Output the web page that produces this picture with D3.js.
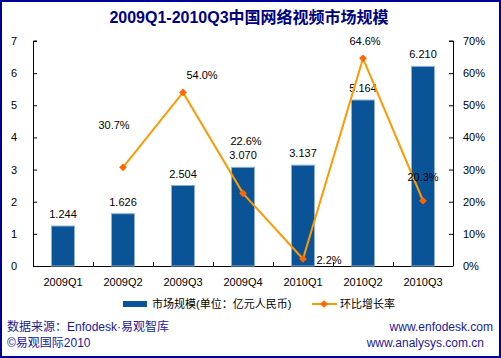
<!DOCTYPE html>
<html>
<head>
<meta charset="utf-8">
<script src="https://cdn.jsdelivr.net/npm/d3@7"></script>
<style>
html,body{margin:0;padding:0;background:#fff;}
svg{display:block;}
text{font-family:"Liberation Sans",Arial,"Noto Sans CJK SC",sans-serif;}
</style>
</head>
<body>
<svg id="chart" width="501" height="358"></svg>
<script>
const categories = ["2009Q1","2009Q2","2009Q3","2009Q4","2010Q1","2010Q2","2010Q3"];
const marketSize = [1.244, 1.626, 2.504, 3.070, 3.137, 5.164, 6.210];
const growthRate = [null, 30.7, 54.0, 22.6, 2.2, 64.6, 20.3];
const leftTicks = [0,1,2,3,4,5,6,7];
const rightTicks = [0,10,20,30,40,50,60,70];
const titleText = "2009Q1-2010Q3中国网络视频市场规模";
const legendBar = "市场规模(单位：亿元人民币)";
const legendLine = "环比增长率";
// manual label placements (dx, dy) for growth labels, relative to marker
const growthLabelOffset = [null,[-9,-42],[19,-17],[3,-52],[26,1],[2,-17],[0,-24]];

const svg = d3.select("#chart");
const W = 501, H = 358;
const m = {left:33, right:453, top:41, bottom:266};
const navy = "#000099";

svg.append("rect").attr("x",1).attr("y",1).attr("width",W-2).attr("height",H-2)
  .attr("fill","#fff").attr("stroke",navy).attr("stroke-width",2);

svg.append("text").attr("x",249).attr("y",23).attr("text-anchor","middle")
  .attr("font-size",16).attr("font-weight","bold").attr("fill","#000080")
  .attr("font-family","Liberation Sans, Arial, Noto Sans CJK SC, sans-serif")
  .text(titleText);

const x = d3.scaleBand().domain(categories).range([m.left,m.right]).paddingInner(0).paddingOuter(0);
const yL = d3.scaleLinear().domain([0,7]).range([m.bottom,m.top]);
const yR = d3.scaleLinear().domain([0,70]).range([m.bottom,m.top]);

const fs = 11;
// left axis
const gL = svg.append("g").attr("transform",`translate(${m.left},0)`)
  .call(d3.axisRight(yL).tickValues(leftTicks).tickSize(4).tickFormat(d3.format("d")));
gL.selectAll("text").remove();
gL.select(".domain").attr("d",`M4,${m.top}H0.5V${m.bottom}`);
leftTicks.forEach(t=>{
  svg.append("text").attr("x",17).attr("y",yL(t)+4).attr("text-anchor","end")
    .attr("font-size",fs).attr("fill","#000").text(t);
});
// right axis
const gR = svg.append("g").attr("transform",`translate(${m.right},0)`)
  .call(d3.axisLeft(yR).tickValues(rightTicks).tickSize(4));
gR.selectAll("text").remove();
gR.select(".domain").attr("d",`M-4,${m.top}H0.5V${m.bottom}`);
rightTicks.forEach(t=>{
  svg.append("text").attr("x",463).attr("y",yR(t)+4).attr("text-anchor","start")
    .attr("font-size",fs).attr("fill","#000").text(t+"%");
});
// bottom axis
const gB = svg.append("g").attr("transform",`translate(0,${m.bottom})`)
  .call(d3.axisBottom(x).tickSize(0).tickSizeOuter(0));
gB.select(".domain").attr("d",`M${m.left},0.5H${m.right+0.5}`);
gB.selectAll("text").remove();
gB.selectAll(".tick line").remove();
categories.forEach((c,i)=>{
  if(i>0){
    const bx = Math.round(x(c))+0.5;
    svg.append("line").attr("x1",bx).attr("x2",bx).attr("y1",m.bottom).attr("y2",m.bottom-4)
      .attr("stroke","#000");
  }
  svg.append("text").attr("x",x(c)+x.bandwidth()/2).attr("y",m.bottom+20).attr("text-anchor","middle")
    .attr("font-size",fs).attr("fill","#000").text(c);
});
svg.selectAll(".tick line").attr("stroke","#000");
svg.selectAll(".domain").attr("stroke","#000");

// bars
const bw = 24;
svg.append("g").selectAll("rect").data(marketSize).join("rect")
  .attr("x",(d,i)=>x(categories[i])+x.bandwidth()/2-bw/2+0.5)
  .attr("y",d=>yL(d))
  .attr("width",bw-1).attr("height",d=>m.bottom-yL(d))
  .attr("fill","#0A5396").attr("stroke","#8CB0D8").attr("stroke-width",1);
svg.append("g").selectAll("text").data(marketSize).join("text")
  .attr("x",(d,i)=>x(categories[i])+x.bandwidth()/2)
  .attr("y",d=>yL(d)-8)
  .attr("text-anchor","middle").attr("font-size",fs).attr("fill","#000")
  .text(d=>d3.format(".3f")(d));

// line
const pts = growthRate.map((d,i)=>({d,i})).filter(p=>p.d!==null);
const line = d3.line().x(p=>x(categories[p.i])+x.bandwidth()/2).y(p=>yR(p.d));
svg.append("path").datum(pts).attr("d",line).attr("fill","none")
  .attr("stroke","#FF9900").attr("stroke-width",2);
const sym = d3.symbol().type(d3.symbolDiamond2).size(38);
svg.append("g").selectAll("path").data(pts).join("path")
  .attr("transform",p=>`translate(${x(categories[p.i])+x.bandwidth()/2},${yR(p.d)})`)
  .attr("d",sym).attr("fill","#FF6600");
svg.append("g").selectAll("text").data(pts).join("text")
  .attr("x",p=>x(categories[p.i])+x.bandwidth()/2+growthLabelOffset[p.i][0])
  .attr("y",p=>yR(p.d)+growthLabelOffset[p.i][1]+4)
  .attr("text-anchor","middle").attr("font-size",fs).attr("fill","#000")
  .text(p=>d3.format(".1f")(p.d)+"%");

// legend
svg.append("rect").attr("x",123).attr("y",301).attr("width",24).attr("height",6).attr("fill","#0A5396");
svg.append("text").attr("x",152).attr("y",308).attr("font-size",fs).attr("fill","#000").text(legendBar);
svg.append("line").attr("x1",312).attr("x2",337).attr("y1",304).attr("y2",304).attr("stroke","#FF9900").attr("stroke-width",2);
svg.append("path").attr("transform","translate(324,304)").attr("d",sym).attr("fill","#FF6600");
svg.append("text").attr("x",340).attr("y",308).attr("font-size",fs).attr("fill","#000").text(legendLine);

// footer
const fc = "#1A1A99";
svg.append("text").attr("x",7).attr("y",331).attr("font-size",12).attr("fill",fc).text("数据来源：Enfodesk·易观智库");
svg.append("text").attr("x",7).attr("y",347).attr("font-size",12).attr("fill",fc).text("©易观国际2010");
svg.append("text").attr("x",493).attr("y",331).attr("text-anchor","end").attr("font-size",12).attr("fill",fc).text("www.enfodesk.com");
svg.append("text").attr("x",484).attr("y",347).attr("text-anchor","end").attr("font-size",12).attr("fill",fc).text("www.analysys.com.cn");
</script>
</body>
</html>
